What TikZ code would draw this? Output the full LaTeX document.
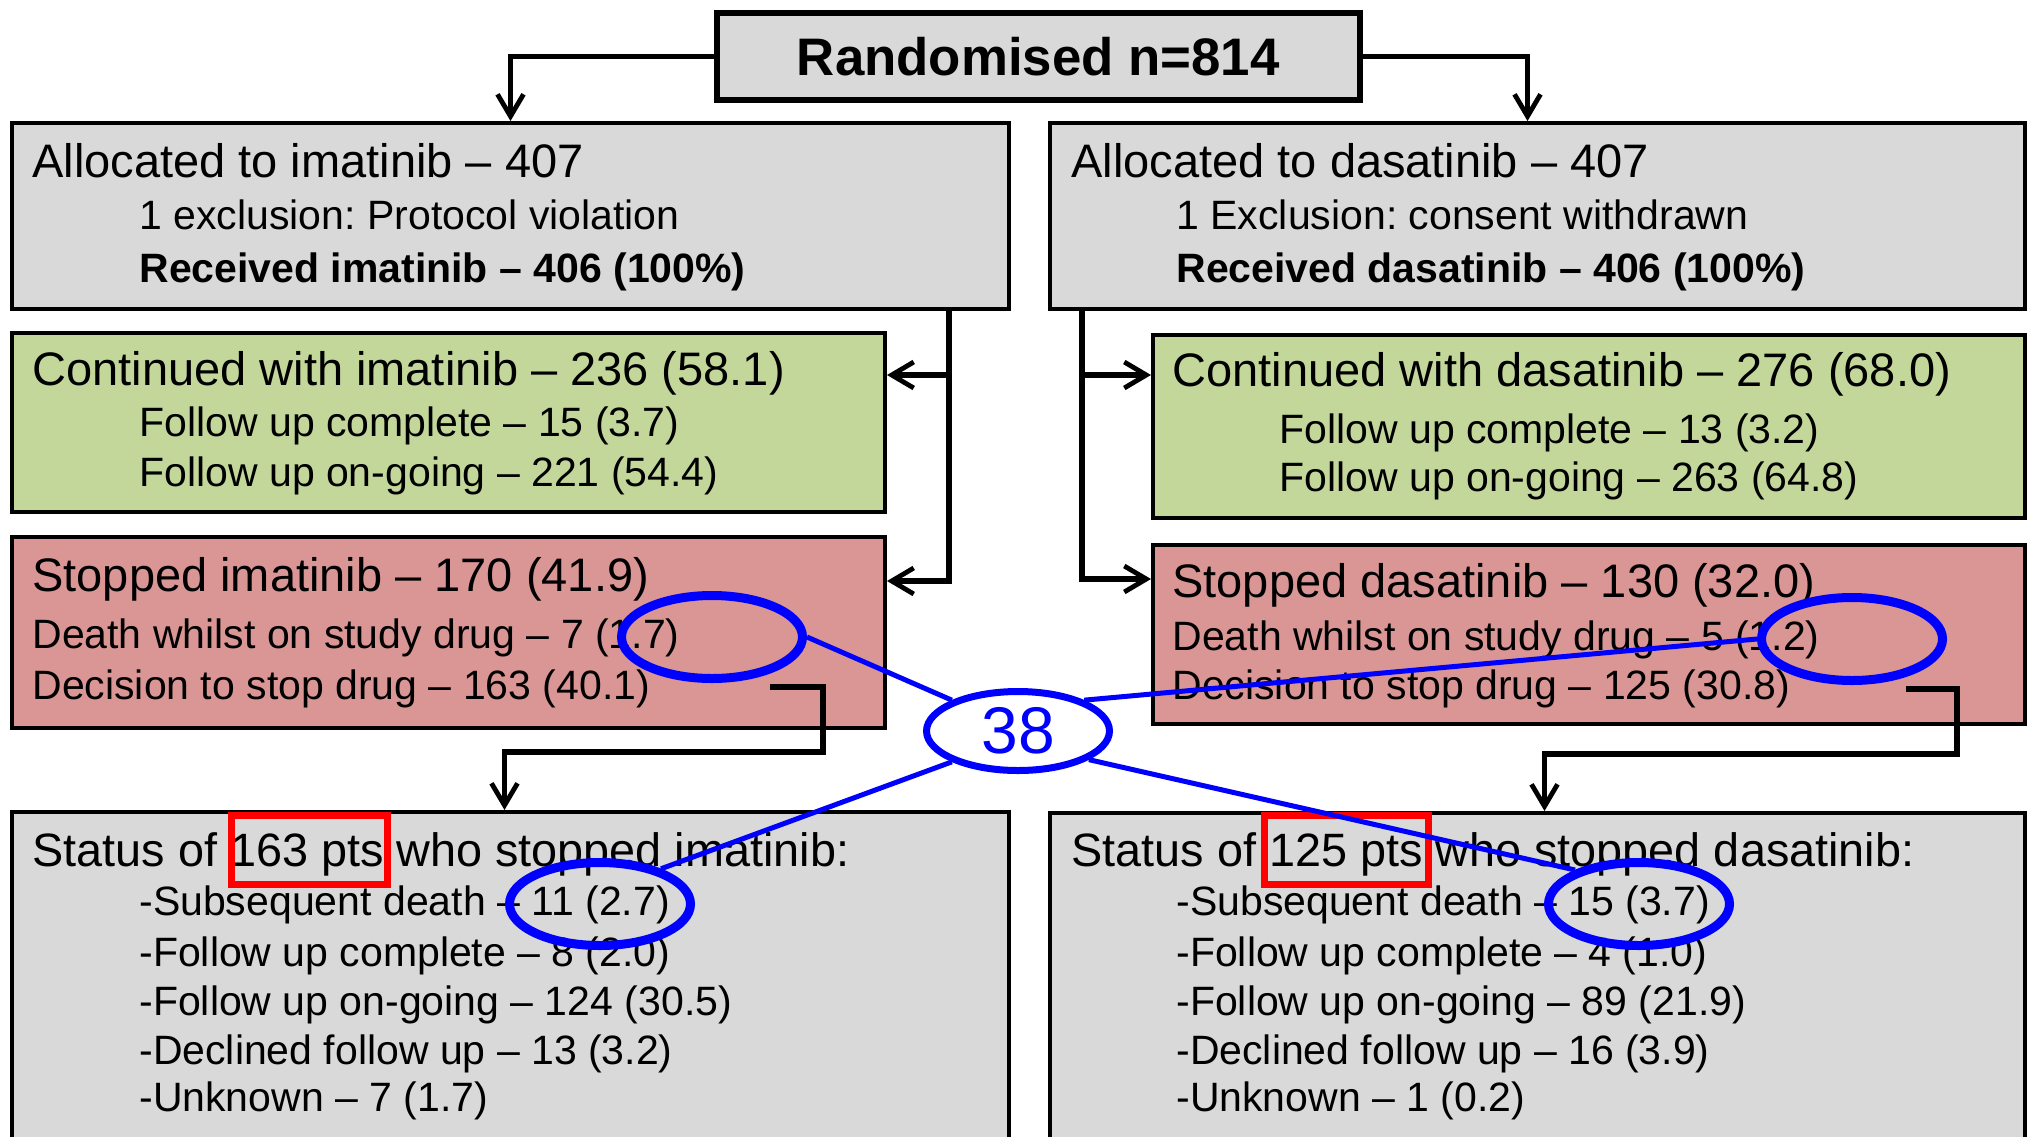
\documentclass[tikz,border=0pt]{standalone}
\usepackage{fontspec}
\setmainfont{Liberation Sans}
\usetikzlibrary{arrows.meta,shapes.geometric}
\definecolor{boxgray}{HTML}{D9D9D9}
\definecolor{boxgreen}{HTML}{C4D79B}
\definecolor{boxred}{HTML}{D99694}
\frenchspacing
\tikzset{
	box/.style={draw=black, line width=2pt, inner sep=0pt, anchor=north west},
	big/.style={anchor=base west, inner sep=0pt, font=\fontsize{23.5}{28}\selectfont},
	small/.style={anchor=base west, inner sep=0pt, font=\fontsize{20.5}{24}\selectfont},
	head/.style={anchor=base west, inner sep=0pt, font=\fontsize{23.4}{28}\selectfont},
	conn/.style={line width=2.7pt, -{Straight Barb[length=11pt,width=13pt,line width=2.4pt]}},
	circ/.style={ellipse, draw=blue, line width=4.5pt, minimum width=90.5pt, minimum height=41.5pt, inner sep=0pt},
	link/.style={draw=blue, line width=2.5pt},
}

\begin{document}
\begin{tikzpicture}[x=0.5pt, y=-0.5pt]
			%%%%% START %%%%%
			\useasboundingbox (0, 0) rectangle (2028, 1136);
			\clip (0, 0) rectangle (2028, 1136);
			
			\node[box, fill=boxgray, line width=2.75pt, minimum width=321.5pt, minimum height=43.5pt, font=\fontsize{26.4}{30}\selectfont\bfseries] (rand) at (714, 10) {Randomised n=814};
			
			\node[box, fill=boxgray, minimum width=498.5pt, minimum height=93pt] (alloc1) at (10, 121) {};
			\node[box, fill=boxgray, minimum width=487.5pt, minimum height=93pt] (alloc2) at (1048, 121) {};
			\node[box, fill=boxgreen, minimum width=436.5pt, minimum height=89.5pt] (cont1) at (10, 331) {};
			\node[box, fill=boxgreen, minimum width=436pt, minimum height=91.5pt] (cont2) at (1151, 333) {};
			\node[box, fill=boxred, minimum width=436.5pt, minimum height=95.5pt] (stop1) at (10, 535) {};
			\node[box, fill=boxred, minimum width=436pt, minimum height=89.5pt] (stop2) at (1151, 543) {};
			\node[box, fill=boxgray, minimum width=498.5pt, minimum height=175pt] (stat1) at (10, 810) {};
			\node[box, fill=boxgray, minimum width=487.5pt, minimum height=175pt] (stat2) at (1048, 811) {};
			
			\node[big] (al1a) at (32, 177) {Allocated to imatinib – 407};
			\node[small] (al1b) at (139, 229) {1 exclusion: Protocol violation};
			\node[small, font=\fontsize{20.5}{24}\selectfont\bfseries] (al1c) at (139, 282) {Received imatinib – 406 (100\%)};
			\node[big] (al2a) at (1071, 177) {Allocated to dasatinib – 407};
			\node[small] (al2b) at (1176, 229) {1 Exclusion: consent withdrawn};
			\node[small, font=\fontsize{20.5}{24}\selectfont\bfseries] (al2c) at (1176, 282) {Received dasatinib – 406 (100\%)};
			
			\node[big] (co1a) at (32, 385) {Continued with imatinib – 236 (58.1)};
			\node[small] (co1b) at (139, 436) {Follow up complete – 15 (3.7)};
			\node[small] (co1c) at (139, 486) {Follow up on-going – 221 (54.4)};
			\node[big] (co2a) at (1172, 386) {Continued with dasatinib – 276 (68.0)};
			\node[small] (co2b) at (1279, 443) {Follow up complete – 13 (3.2)};
			\node[small] (co2c) at (1279, 491) {Follow up on-going – 263 (64.8)};
			
			\node[big] (st1a) at (32, 591) {Stopped imatinib – 170 (41.9)};
			\node[small] (st1b) at (32, 648) {Death whilst on study drug – 7 (1.7)};
			\node[small] (st1c) at (32, 699) {Decision to stop drug – 163 (40.1)};
			\node[big] (st2a) at (1172, 597) {Stopped dasatinib – 130 (32.0)};
			\node[small] (st2b) at (1172, 650) {Death whilst on study drug – 5 (1.2)};
			\node[small] (st2c) at (1172, 699) {Decision to stop drug – 125 (30.8)};
			
			\node[head] (sa1) at (32, 866) {Status of 163 pts who stopped imatinib:};
			\node[small] (sb1) at (139, 915) {-Subsequent death – 11 (2.7)};
			\node[small] (sc1) at (139, 966) {-Follow up complete – 8 (2.0)};
			\node[small] (sd1) at (139, 1015) {-Follow up on-going – 124 (30.5)};
			\node[small] (se1) at (139, 1064) {-Declined follow up – 13 (3.2)};
			\node[small] (sf1) at (139, 1111) {-Unknown – 7 (1.7)};
			\node[head] (sa2) at (1071, 866) {Status of 125 pts who stopped dasatinib:};
			\node[small] (sb2) at (1176, 915) {-Subsequent death – 15 (3.7)};
			\node[small] (sc2) at (1176, 966) {-Follow up complete – 4 (1.0)};
			\node[small] (sd2) at (1176, 1015) {-Follow up on-going – 89 (21.9)};
			\node[small] (se2) at (1176, 1064) {-Declined follow up – 16 (3.9)};
			\node[small] (sf2) at (1176, 1111) {-Unknown – 1 (0.2)};
			
			\draw[conn] (rand.west) -| (alloc1.north);
			\draw[conn] (rand.east) -| ([xshift=-5pt]alloc2.north);
			
			\coordinate (trunk1) at (949, 375);
			\coordinate (trunk2) at (949, 581);
			\coordinate (trunk3) at (1082, 375);
			\coordinate (trunk4) at (1082, 579);
			\draw[conn] (alloc1.south -| trunk2) -- (trunk2) -- (trunk2 -| stop1.east);
			\draw[conn] (trunk1) -- (trunk1 -| cont1.east);
			\draw[conn] (alloc2.south -| trunk4) -- (trunk4) -- (trunk4 -| stop2.west);
			\draw[conn] (trunk3) -- (trunk3 -| cont2.west);
			
			\coordinate (dec1) at (770, 687);
			\coordinate (bend1) at (823, 752);
			\draw[conn] (dec1) -| (bend1) -| ([xshift=-3pt]stat1.north);
			\coordinate (dec2) at (1906, 689);
			\coordinate (bend2) at (1957, 754);
			\draw[conn] (dec2) -| (bend2) -| ([xshift=3.5pt]stat2.north);
			
			\draw[red, line width=3.5pt] (231, 815) rectangle (387, 884);
			\draw[red, line width=3.5pt] (1264, 815) rectangle (1428, 884);
			
			\node[circ] (e1) at (712, 637) {};
			\node[circ] (e2) at (1852, 639) {};
			\node[circ] (e3) at (600, 904) {};
			\node[circ] (e4) at (1639, 904) {};
			\node[ellipse, draw=blue, fill=white, line width=3.5pt, minimum width=91.5pt, minimum height=39.5pt, inner sep=0pt, text=blue, font=\fontsize{33}{36}\selectfont] (n38) at (1018, 731) {38};
			
			\draw[link] (e1.east) -- (n38.155);
			\draw[link] (n38.205) -- (e3.30);
			\draw[link] (n38.25) -- (e2.west);
			\draw[link] (n38.-22) -- (e4.152);
			
			%%%%% END %%%%%
\end{tikzpicture}
\end{document}
